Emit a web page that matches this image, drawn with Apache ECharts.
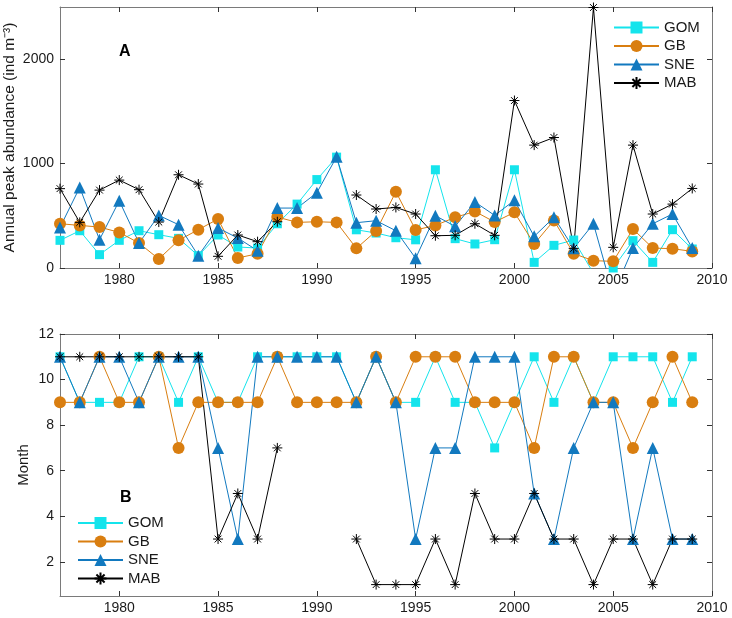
<!DOCTYPE html>
<html>
<head>
<meta charset="utf-8">
<script src="https://cdn.jsdelivr.net/npm/echarts@6/dist/echarts.min.js"></script>
<style>
html,body{margin:0;padding:0;background:#fff;}
#chart{width:732px;height:618px;}
</style>
</head>
<body>
<div id="chart"></div>
<script>
const years = [1977,1978,1979,1980,1981,1982,1983,1984,1985,1986,1987,1988,1989,1990,1991,1992,1993,1994,1995,1996,1997,1998,1999,2000,2001,2002,2003,2004,2005,2006,2007,2008,2009];
const seriesNames = ['GOM','GB','SNE','MAB'];

// Panel A: annual peak abundance (ind m^-3)
const gomAbund = [265,357,128,265,357,319,284,118,316,201,191,424,612,847,1062,366,335,290,270,941,281,230,271,941,54,217,268,-50,0,262,54,367,182];
const gbAbund  = [424,408,392,341,239,86,265,367,469,96,137,488,437,443,437,188,354,730,364,408,485,542,440,533,230,456,137,70,64,373,191,185,159];
const sneAbund = [389,772,271,644,239,504,415,118,383,287,166,574,574,721,1065,434,453,357,93,501,399,632,504,648,303,485,188,424,-250,191,424,517,191];
const mabAbund = [760,437,746,842,750,440,893,804,112,316,252,443,null,null,null,699,565,580,517,309,313,424,313,1604,1177,1250,188,2495,198,1177,517,612,762];

// Panel B: month of peak
const gomMonth = [11,9,9,9,11,11,9,11,9,9,11,11,11,11,11,9,11,9,9,11,9,9,7,9,11,9,11,9,11,11,11,9,11];
const gbMonth  = [9,9,11,9,9,11,7,9,9,9,9,11,9,9,9,9,11,9,11,11,11,9,9,9,7,11,11,9,9,7,9,11,9];
const sneMonth = [11,9,11,11,9,11,11,11,7,3,11,11,11,11,11,9,11,9,3,7,7,11,11,11,5,3,7,9,9,3,7,3,3];
const mabMonth = [11,11,11,11,11,11,11,11,3,5,3,7,null,null,null,3,1,1,1,3,1,5,3,3,5,3,3,1,3,3,1,3,3];

const xTicks = [1980,1985,1990,1995,2000,2005,2010];
const yTicksA = [0,1000,2000];
const yTicksB = [2,4,6,8,10,12];

const colors = {GOM:'#14E4EC', GB:'#D97E10', SNE:'#1279BF', MAB:'#000000'};
const starPath = 'path://M5,0L5,10M0,5L10,5M1.6,1.6L8.4,8.4M1.6,8.4L8.4,1.6';
const symbols = {GOM:['rect',9], GB:['circle',12], SNE:['triangle',12], MAB:[starPath,10]};

const FONT = '"Liberation Sans", Arial, Helvetica, sans-serif';
const AXC = '#7a7a7a';
const LBL = '#1a1a1a';

function mkSeries(name, arr, gi) {
  const c = colors[name];
  const isStar = name === 'MAB';
  return {
    type:'line', name, xAxisIndex: gi*2, yAxisIndex: gi*2,
    data: years.map((y,i)=>[y, arr[i]]),
    symbol: symbols[name][0], symbolSize: symbols[name][1],
    showAllSymbol: true, connectNulls: false, clip: true,
    lineStyle:{color:c, width:1},
    itemStyle: isStar ? {color:'#000', borderColor:'#000', borderWidth:1} : {color:c, borderWidth:0},
    emphasis:{disabled:true}, animation:false, z: 2
  };
}

function xAxes(gi) {
  return [
    {gridIndex:gi, type:'value', min:1977, max:2010, position:'bottom',
     axisLine:{show:true, onZero:false, lineStyle:{color:AXC, width:1}},
     axisTick:{show:true, inside:true, length:5, customValues:xTicks, lineStyle:{color:'#333'}},
     axisLabel:{show:true, customValues:xTicks, formatter:v=>String(v), color:LBL, fontSize:14, fontFamily:FONT, margin:5},
     splitLine:{show:false}},
    {gridIndex:gi, type:'value', min:1977, max:2010, position:'top',
     axisLine:{show:true, onZero:false, lineStyle:{color:AXC, width:1}},
     axisTick:{show:true, inside:true, length:5, customValues:xTicks, lineStyle:{color:'#333'}},
     axisLabel:{show:false}, splitLine:{show:false}}
  ];
}

function yAxes(gi, min, max, ticks, name, gap, nameSize) {
  return [
    {gridIndex:gi, type:'value', min, max, position:'left',
     name, nameLocation:'middle', nameGap:gap, nameMoveOverlap:false,
     nameTextStyle:{color:LBL, fontSize:nameSize, fontFamily:FONT},
     axisLine:{show:true, onZero:false, lineStyle:{color:AXC, width:1}},
     axisTick:{show:true, inside:true, length:5, customValues:ticks, lineStyle:{color:'#333'}},
     axisLabel:{show:true, customValues:ticks, formatter:v=>String(v), color:LBL, fontSize:14, fontFamily:FONT, margin:6},
     splitLine:{show:false}},
    {gridIndex:gi, type:'value', min, max, position:'right',
     axisLine:{show:true, onZero:false, lineStyle:{color:AXC, width:1}},
     axisTick:{show:true, inside:true, length:5, customValues:ticks, lineStyle:{color:'#333'}},
     axisLabel:{show:false}, splitLine:{show:false}}
  ];
}

function legend(left, top) {
  return {
    left, top, orient:'vertical', data:seriesNames,
    itemWidth:45, itemHeight:15, itemGap:3.5,
    textStyle:{color:LBL, fontSize:15, fontFamily:FONT},
    selectedMode:false
  };
}

const chart = echarts.init(document.getElementById('chart'), null, {renderer:'canvas'});
chart.setOption({
  animation:false,
  backgroundColor:'#fff',
  grid:[
    {left:60, right:20, top:7, height:261, outerBoundsMode:'none', containLabel:false},
    {left:60, right:20, top:334, height:262, outerBoundsMode:'none', containLabel:false}
  ],
  xAxis:[...xAxes(0), ...xAxes(1)],
  yAxis:[
    ...yAxes(0, 0, 2500, yTicksA, 'Annual peak abundance (ind m\u207B\u00B3)', 42, 15.5),
    ...yAxes(1, 0.5, 12, yTicksB, 'Month', 29, 15)
  ],
  legend:[legend(608, 15), legend(72, 510.5)],
  graphic:[
    {type:'text', left:119, top:44, style:{text:'A', font:'bold 16px '+FONT, fill:'#000'}},
    {type:'text', left:120, top:490, style:{text:'B', font:'bold 16px '+FONT, fill:'#000'}}
  ],
  series:[
    mkSeries('GOM', gomAbund, 0), mkSeries('GB', gbAbund, 0), mkSeries('SNE', sneAbund, 0), mkSeries('MAB', mabAbund, 0),
    mkSeries('GOM', gomMonth, 1), mkSeries('GB', gbMonth, 1), mkSeries('SNE', sneMonth, 1), mkSeries('MAB', mabMonth, 1)
  ]
});
</script>
</body>
</html>
